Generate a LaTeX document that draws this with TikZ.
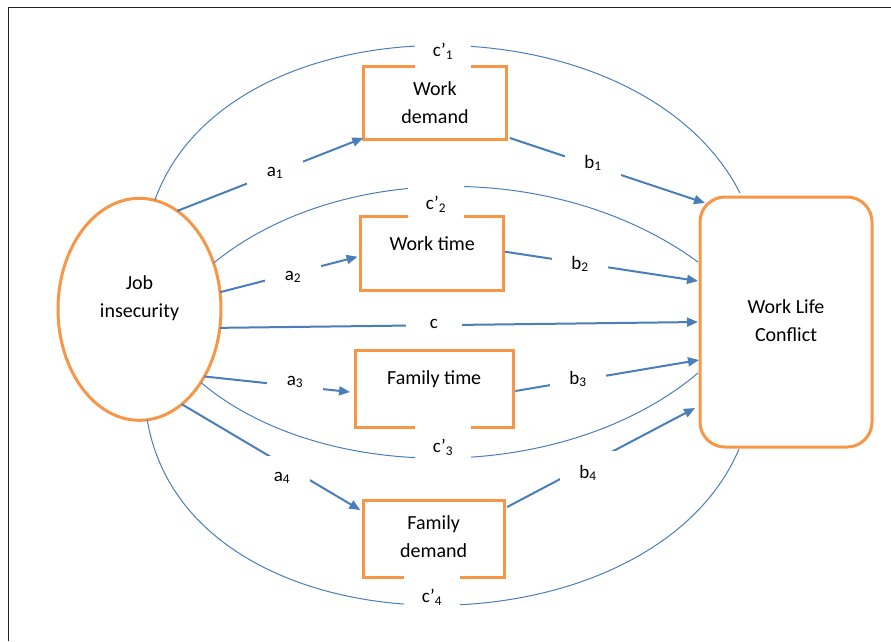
\documentclass[tikz,border=0pt]{standalone}
\usepackage{fontspec}
\setmainfont{Carlito}
\usetikzlibrary{arrows.meta,calc,shapes.geometric}
\definecolor{orng}{HTML}{F79646}
\definecolor{myblue}{HTML}{4A7EBB}
\definecolor{framec}{HTML}{222222}
\tikzset{
  boxst/.style={draw=orng, line width=3pt, inner sep=0pt, outer sep=0pt},
  txt/.style={font=\fontsize{20}{28}\selectfont, align=center, inner sep=0pt},
  lab/.style={fill=white, minimum width=56, minimum height=44, inner sep=0pt, font=\fontsize{19}{22}\selectfont},
  arr/.style={draw=myblue, line width=2pt, -{Triangle[length=11pt,width=9pt]}},
  crv/.style={draw=myblue, line width=1pt},
}
\begin{document}
\begin{tikzpicture}[x=1pt,y=-1pt]
\useasboundingbox (0,0) rectangle (891,641);
\draw[framec, line width=1.5pt] (8.3,641) -- (8.3,7.5) -- (891,7.5);

% nodes
\node[boxst, ellipse, minimum width=163, minimum height=222,
  label={[txt, yshift=11pt]center:Job\\insecurity}] (js) at (139.5,309.3) {};
\node[boxst, rounded corners=25pt, minimum width=172, minimum height=250,
  label={[txt, yshift=1.5pt]center:Work Life\\Conflict}] (wlc) at (786,322) {};
\node[boxst, minimum width=143.4, minimum height=73.3,
  label={[txt, yshift=0.5pt]center:Work\\demand}] (wd) at (435,103.3) {};
\node[boxst, minimum width=143.3, minimum height=74,
  label={[txt, yshift=10.4pt]center:Work time}] (wt) at (432.3,253.7) {};
\node[boxst, minimum width=158.3, minimum height=76.6,
  label={[txt, yshift=9.7pt]center:Family time}] (ft) at (434.2,389) {};
\node[boxst, minimum width=140.7, minimum height=77.3,
  label={[txt, yshift=2.4pt]center:Family\\demand}] (fd) at (433.7,538.7) {};

% direct curves
\draw[crv] (js.82.3) .. controls (228,-5) and (639,-5) .. ($(wlc.north west)+(40,-4)$);
\draw[crv] (js.32.1) .. controls (339,161) and (560,161) .. ($(wlc.west)+(-2,-60)$);
\draw[crv] (js.-50.1) .. controls (322,485) and (565,485) .. ($(wlc.west)+(-2,51)$);
\draw[crv] (js.-86.7) .. controls (188,662) and (649,662) .. ($(wlc.south west)+(39,2)$);

% arrows
\draw[arr] (js.69.4) -- ($(wd.south west)+(0,-2)$);
\draw[arr] ($(wd.south east)+(3,-2)$) -- ($(wlc.north west)+(5,6)$);
\draw[arr] (js.12) -- ($(wt.west)+(-3,3)$);
\draw[arr] ($(wt.east)+(1,-2)$) -- ($(wlc.west)+(-2,-41)$);
\draw[arr] (js.-13.2) -- ($(wlc.west)+(-2,0)$);
\draw[arr] (js.-46.4) -- ($(ft.west)+(-5,3)$);
\draw[arr] ($(ft.east)+(2,2)$) -- ($(wlc.west)+(-1,38)$);
\draw[arr] (js.-66.6) -- ($(fd.north west)+(-3,10)$);
\draw[arr] ($(fd.north east)+(3,7)$) -- ($(wlc.west)+(-5,86)$);

% labels
\node[lab] (lc1) at (443,51) {c’\textsubscript{1}};
\node[lab] (la1) at (275,173) {a\textsubscript{1}};
\node[lab] (lb1) at (593,163) {b\textsubscript{1}};
\node[lab] (lc2) at (436,204) {c’\textsubscript{2}};
\node[lab] (la2) at (293,277) {a\textsubscript{2}};
\node[lab] (lb2) at (580,264) {b\textsubscript{2}};
\node[lab] (lc) at (434,324) {c};
\node[lab] (la3) at (295,382) {a\textsubscript{3}};
\node[lab] (lb3) at (578,379) {b\textsubscript{3}};
\node[lab] (lc3) at (443,447) {c’\textsubscript{3}};
\node[lab] (la4) at (282,478) {a\textsubscript{4}};
\node[lab] (lb4) at (588,473) {b\textsubscript{4}};
\node[lab] (lc4) at (432,597) {c’\textsubscript{4}};
\end{tikzpicture}
\end{document}
